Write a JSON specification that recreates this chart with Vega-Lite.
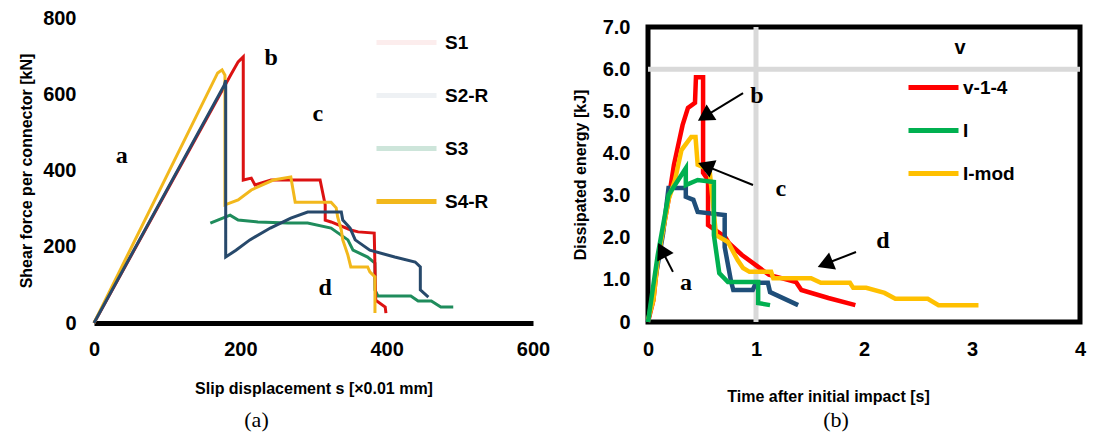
{
"$schema": "https://vega.github.io/schema/vega-lite/v6.json",
"background": "white",
"padding": {"left": 18, "top": 8, "right": 5, "bottom": 5},
"bounds": "flush",
"spacing": 115,
"resolve": {"scale": {"color": "independent"}, "legend": {"color": "independent"}},
"config": {
 "view": {"stroke": null},
 "font": "Liberation Sans",
 "axis": {"labelFont": "Liberation Sans", "labelFontSize": 20, "labelFontWeight": "bold", "labelColor": "#000", "titleFont": "Liberation Sans", "titleFontSize": 16, "titleFontWeight": "bold", "titleColor": "#000", "ticks": false, "grid": false, "domain": false, "labelFlush": false, "labelOverlap": false},
 "legend": {"labelFont": "Liberation Sans", "labelFontSize": 19, "labelFontWeight": "bold", "labelColor": "#000", "titleFont": "Liberation Sans", "titleFontSize": 20, "titleColor": "#000", "symbolType": "stroke", "symbolStrokeWidth": 5}
},
"hconcat": [
 {
  "width": 439, "height": 305,
  "title": {"text": "(a)", "orient": "bottom", "anchor": "middle", "dx": -57, "offset": 14, "font": "Liberation Serif", "fontSize": 22, "fontWeight": "normal", "color": "#000"},
  "layer": [
   {
    "data": {"values": [
     {"s":"S3","i":0,"x":159,"y":262},{"s":"S3","i":1,"x":186,"y":283},{"s":"S3","i":2,"x":197,"y":270},{"s":"S3","i":3,"x":224,"y":265},{"s":"S3","i":4,"x":265,"y":262},{"s":"S3","i":5,"x":292,"y":262},{"s":"S3","i":6,"x":324,"y":249},{"s":"S3","i":7,"x":347,"y":218},{"s":"S3","i":8,"x":354,"y":191},{"s":"S3","i":9,"x":374,"y":173},{"s":"S3","i":10,"x":384,"y":157},{"s":"S3","i":11,"x":384,"y":87},{"s":"S3","i":12,"x":388,"y":71},{"s":"S3","i":13,"x":433,"y":71},{"s":"S3","i":14,"x":443,"y":58},{"s":"S3","i":15,"x":461,"y":58},{"s":"S3","i":16,"x":474,"y":42},{"s":"S3","i":17,"x":491,"y":42},
     {"s":"S1","i":0,"x":0,"y":0},{"s":"S1","i":1,"x":187,"y":651},{"s":"S1","i":2,"x":197,"y":685},{"s":"S1","i":3,"x":204,"y":698},{"s":"S1","i":4,"x":204,"y":375},{"s":"S1","i":5,"x":215,"y":380},{"s":"S1","i":6,"x":220,"y":362},{"s":"S1","i":7,"x":242,"y":375},{"s":"S1","i":8,"x":279,"y":375},{"s":"S1","i":9,"x":309,"y":375},{"s":"S1","i":10,"x":316,"y":310},{"s":"S1","i":11,"x":316,"y":270},{"s":"S1","i":12,"x":324,"y":265},{"s":"S1","i":13,"x":351,"y":244},{"s":"S1","i":14,"x":361,"y":239},{"s":"S1","i":15,"x":383,"y":236},{"s":"S1","i":16,"x":385,"y":60},{"s":"S1","i":17,"x":398,"y":42},{"s":"S1","i":18,"x":399,"y":26},
     {"s":"S4-R","i":0,"x":0,"y":0},{"s":"S4-R","i":1,"x":169,"y":656},{"s":"S4-R","i":2,"x":175,"y":664},{"s":"S4-R","i":3,"x":179,"y":650},{"s":"S4-R","i":4,"x":179,"y":310},{"s":"S4-R","i":5,"x":197,"y":323},{"s":"S4-R","i":6,"x":215,"y":349},{"s":"S4-R","i":7,"x":245,"y":375},{"s":"S4-R","i":8,"x":269,"y":383},{"s":"S4-R","i":9,"x":275,"y":317},{"s":"S4-R","i":10,"x":324,"y":317},{"s":"S4-R","i":11,"x":331,"y":302},{"s":"S4-R","i":12,"x":333,"y":278},{"s":"S4-R","i":13,"x":338,"y":244},{"s":"S4-R","i":14,"x":340,"y":218},{"s":"S4-R","i":15,"x":347,"y":178},{"s":"S4-R","i":16,"x":351,"y":147},{"s":"S4-R","i":17,"x":374,"y":147},{"s":"S4-R","i":18,"x":377,"y":134},{"s":"S4-R","i":19,"x":384,"y":121},{"s":"S4-R","i":20,"x":384,"y":26},
     {"s":"S2-R","i":0,"x":0,"y":0},{"s":"S2-R","i":1,"x":178,"y":624},{"s":"S2-R","i":2,"x":180,"y":637},{"s":"S2-R","i":3,"x":180,"y":173},{"s":"S2-R","i":4,"x":194,"y":191},{"s":"S2-R","i":5,"x":213,"y":218},{"s":"S2-R","i":6,"x":241,"y":249},{"s":"S2-R","i":7,"x":269,"y":275},{"s":"S2-R","i":8,"x":292,"y":291},{"s":"S2-R","i":9,"x":338,"y":291},{"s":"S2-R","i":10,"x":340,"y":270},{"s":"S2-R","i":11,"x":350,"y":249},{"s":"S2-R","i":12,"x":357,"y":218},{"s":"S2-R","i":13,"x":377,"y":191},{"s":"S2-R","i":14,"x":411,"y":173},{"s":"S2-R","i":15,"x":439,"y":160},{"s":"S2-R","i":16,"x":446,"y":147},{"s":"S2-R","i":17,"x":446,"y":87},{"s":"S2-R","i":18,"x":457,"y":68}
    ]},
    "mark": {"type": "line", "strokeWidth": 3, "strokeJoin": "miter"},
    "encoding": {
     "x": {"field": "x", "type": "quantitative", "scale": {"domain": [0, 600], "nice": false},
       "axis": {"values": [0, 200, 400, 600], "format": "d", "title": "Slip displacement s [×0.01 mm]", "domain": true, "domainWidth": 5, "domainColor": "#000", "domainCap": "butt", "labelPadding": 16, "titlePadding": 21}},
     "y": {"field": "y", "type": "quantitative", "scale": {"domain": [0, 800], "nice": false},
       "axis": {"values": [0, 100, 200, 300, 400, 500, 600, 700, 800], "format": "d", "title": "Shear force per connector [kN]", "labelPadding": 18, "titlePadding": 8}},
     "color": {"field": "s", "type": "nominal",
       "scale": {"domain": ["S1", "S2-R", "S3", "S4-R"], "range": ["#dc1212", "#27496b", "#1f8c5c", "#f2b81c"]},
       "legend": {"title": null, "orient": "none", "legendX": 280, "legendY": -8, "symbolSize": 3600, "rowPadding": 10, "labelOffset": 6,
         "encode": {"symbols": {"update": {"opacity": {"signal": "datum.index === 3 ? 1 : datum.index === 2 ? 0.22 : 0.07"}}}}}},
     "order": {"field": "i", "type": "quantitative"}
    }
   },
   {
    "data": {"values": [
     {"x": 38, "y": 438, "t": "a"}, {"x": 242, "y": 695, "t": "b"}, {"x": 306, "y": 548, "t": "c"}, {"x": 316, "y": 92, "t": "d"}
    ]},
    "mark": {"type": "text", "font": "Liberation Serif", "fontSize": 24, "fontWeight": "bold", "color": "#000", "baseline": "middle", "align": "center"},
    "encoding": {
     "x": {"field": "x", "type": "quantitative"},
     "y": {"field": "y", "type": "quantitative"},
     "text": {"field": "t"}
    }
   }
  ]
 },
 {
  "spacing": 0,
  "bounds": "flush",
  "vconcat": [
   {"width": 432, "height": 9, "data": {"values": [{}]}, "mark": {"type": "text"}, "encoding": {"text": {"value": ""}}},
   {
    "width": 432, "height": 295,
    "view": {"stroke": "#000", "strokeWidth": 5},
    "title": {"text": "(b)", "orient": "bottom", "anchor": "middle", "dx": -28, "offset": 6, "font": "Liberation Serif", "fontSize": 22, "fontWeight": "normal", "color": "#000"},
    "layer": [
     {
      "data": {"values": [{"x": 1}]},
      "mark": {"type": "rule", "color": "#d9d9d9", "strokeWidth": 5},
      "encoding": {"x": {"field": "x", "type": "quantitative"}}
     },
     {
      "data": {"values": [{"y": 6}]},
      "mark": {"type": "rule", "color": "#d9d9d9", "strokeWidth": 5},
      "encoding": {"y": {"field": "y", "type": "quantitative"}}
     },
     {
      "data": {"values": [
       {"s":"v-1-4","i":0,"x":0,"y":0},{"s":"v-1-4","i":1,"x":0.05,"y":0.52},{"s":"v-1-4","i":2,"x":0.09,"y":1.47},{"s":"v-1-4","i":3,"x":0.19,"y":2.9},{"s":"v-1-4","i":4,"x":0.24,"y":3.73},{"s":"v-1-4","i":5,"x":0.32,"y":4.67},{"s":"v-1-4","i":6,"x":0.37,"y":5.08},{"s":"v-1-4","i":7,"x":0.435,"y":5.2},{"s":"v-1-4","i":8,"x":0.444,"y":5.81},{"s":"v-1-4","i":9,"x":0.51,"y":5.81},{"s":"v-1-4","i":10,"x":0.51,"y":3.54},{"s":"v-1-4","i":11,"x":0.556,"y":3.37},{"s":"v-1-4","i":12,"x":0.556,"y":2.3},{"s":"v-1-4","i":13,"x":0.713,"y":2.02},{"s":"v-1-4","i":14,"x":0.75,"y":1.87},{"s":"v-1-4","i":15,"x":0.87,"y":1.59},{"s":"v-1-4","i":16,"x":1.12,"y":1.12},{"s":"v-1-4","i":17,"x":1.37,"y":0.95},{"s":"v-1-4","i":18,"x":1.42,"y":0.76},{"s":"v-1-4","i":19,"x":1.67,"y":0.57},{"s":"v-1-4","i":20,"x":1.92,"y":0.4},
       {"s":"ref","i":0,"x":0,"y":0},{"s":"ref","i":1,"x":0.14,"y":2.11},{"s":"ref","i":2,"x":0.19,"y":3.18},{"s":"ref","i":3,"x":0.35,"y":3.18},{"s":"ref","i":4,"x":0.35,"y":2.97},{"s":"ref","i":5,"x":0.42,"y":2.9},{"s":"ref","i":6,"x":0.46,"y":2.61},{"s":"ref","i":7,"x":0.71,"y":2.54},{"s":"ref","i":8,"x":0.71,"y":1.78},{"s":"ref","i":9,"x":0.77,"y":0.95},{"s":"ref","i":10,"x":0.79,"y":0.76},{"s":"ref","i":11,"x":0.97,"y":0.76},{"s":"ref","i":12,"x":1.0,"y":0.93},{"s":"ref","i":13,"x":1.11,"y":0.93},{"s":"ref","i":14,"x":1.13,"y":0.71},{"s":"ref","i":15,"x":1.39,"y":0.4},
       {"s":"I-mod","i":0,"x":0,"y":0.05},{"s":"I-mod","i":1,"x":0.05,"y":0.52},{"s":"I-mod","i":2,"x":0.09,"y":1.47},{"s":"I-mod","i":3,"x":0.19,"y":2.9},{"s":"I-mod","i":4,"x":0.25,"y":3.37},{"s":"I-mod","i":5,"x":0.31,"y":4.08},{"s":"I-mod","i":6,"x":0.4,"y":4.39},{"s":"I-mod","i":7,"x":0.44,"y":4.39},{"s":"I-mod","i":8,"x":0.46,"y":3.73},{"s":"I-mod","i":9,"x":0.57,"y":3.61},{"s":"I-mod","i":10,"x":0.63,"y":2.06},{"s":"I-mod","i":11,"x":0.74,"y":1.9},{"s":"I-mod","i":12,"x":0.83,"y":1.47},{"s":"I-mod","i":13,"x":0.88,"y":1.28},{"s":"I-mod","i":14,"x":0.94,"y":1.19},{"s":"I-mod","i":15,"x":1.14,"y":1.19},{"s":"I-mod","i":16,"x":1.16,"y":1.04},{"s":"I-mod","i":17,"x":1.51,"y":1.04},{"s":"I-mod","i":18,"x":1.6,"y":0.93},{"s":"I-mod","i":19,"x":1.87,"y":0.93},{"s":"I-mod","i":20,"x":1.9,"y":0.81},{"s":"I-mod","i":21,"x":2.02,"y":0.81},{"s":"I-mod","i":22,"x":2.19,"y":0.69},{"s":"I-mod","i":23,"x":2.29,"y":0.55},{"s":"I-mod","i":24,"x":2.59,"y":0.55},{"s":"I-mod","i":25,"x":2.69,"y":0.4},{"s":"I-mod","i":26,"x":3.06,"y":0.4},
       {"s":"I","i":0,"x":0,"y":0},{"s":"I","i":1,"x":0.04,"y":0.71},{"s":"I","i":2,"x":0.09,"y":1.59},{"s":"I","i":3,"x":0.19,"y":3.01},{"s":"I","i":4,"x":0.35,"y":3.65},{"s":"I","i":5,"x":0.35,"y":3.25},{"s":"I","i":6,"x":0.46,"y":3.37},{"s":"I","i":7,"x":0.61,"y":3.32},{"s":"I","i":8,"x":0.61,"y":2.06},{"s":"I","i":9,"x":0.66,"y":1.16},{"s":"I","i":10,"x":0.74,"y":0.95},{"s":"I","i":11,"x":1.02,"y":0.95},{"s":"I","i":12,"x":1.02,"y":0.45},{"s":"I","i":13,"x":1.13,"y":0.4}
      ]},
      "mark": {"type": "line", "strokeWidth": 4.5, "strokeJoin": "miter"},
      "encoding": {
       "x": {"field": "x", "type": "quantitative", "scale": {"domain": [0, 4], "nice": false},
         "axis": {"values": [0, 1, 2, 3, 4], "format": "d", "title": "Time after initial impact [s]", "labelPadding": 17, "titlePadding": 29, "titleX": 180}},
       "y": {"field": "y", "type": "quantitative", "scale": {"domain": [0, 7], "nice": false},
         "axis": {"values": [0, 1, 2, 3, 4, 5, 6, 7], "labelExpr": "datum.value === 0 ? '0' : format(datum.value, '.1f')", "title": "Dissipated energy [kJ]", "labelPadding": 18, "titlePadding": 14}},
       "color": {"field": "s", "type": "nominal",
         "scale": {"domain": ["v-1-4", "I", "I-mod", "ref"], "range": ["#ff0000", "#00b050", "#ffc000", "#1f4e79"]},
         "legend": {"values": ["v-1-4", "I", "I-mod"], "title": "v", "titleAnchor": "middle", "titlePadding": 2, "orient": "none", "legendX": 258, "legendY": 20, "symbolSize": 2500, "rowPadding": 5, "labelOffset": 2}},
       "order": {"field": "i", "type": "quantitative"}
      }
     },
     {
      "data": {"values": [
       {"x": 0.88, "y": 5.43, "x2": 0.546, "y2": 4.91, "angle": 238},
       {"x": 0.972, "y": 3.25, "x2": 0.556, "y2": 3.68, "angle": 292},
       {"x": 0.231, "y": 1.19, "x2": 0.139, "y2": 1.65, "angle": 333},
       {"x": 1.926, "y": 1.66, "x2": 1.663, "y2": 1.4, "angle": 248}
      ]},
      "layer": [
       {"mark": {"type": "rule", "color": "#000", "strokeWidth": 2},
        "encoding": {"x": {"field": "x", "type": "quantitative"}, "y": {"field": "y", "type": "quantitative"}, "x2": {"field": "x2"}, "y2": {"field": "y2"}}},
       {"mark": {"type": "point", "shape": "triangle", "filled": true, "color": "#000", "size": 340, "opacity": 1},
        "encoding": {"x": {"field": "x2", "type": "quantitative"}, "y": {"field": "y2", "type": "quantitative"}, "angle": {"field": "angle", "type": "quantitative", "scale": null}}}
      ]
     },
     {
      "data": {"values": [
       {"x": 0.352, "y": 0.93, "t": "a"}, {"x": 1.009, "y": 5.36, "t": "b"}, {"x": 1.231, "y": 3.16, "t": "c"}, {"x": 2.176, "y": 1.92, "t": "d"}
      ]},
      "mark": {"type": "text", "font": "Liberation Serif", "fontSize": 24, "fontWeight": "bold", "color": "#000", "baseline": "middle", "align": "center"},
      "encoding": {
       "x": {"field": "x", "type": "quantitative"},
       "y": {"field": "y", "type": "quantitative"},
       "text": {"field": "t"}
      }
     }
    ]
   }
  ]
 }
]
}
